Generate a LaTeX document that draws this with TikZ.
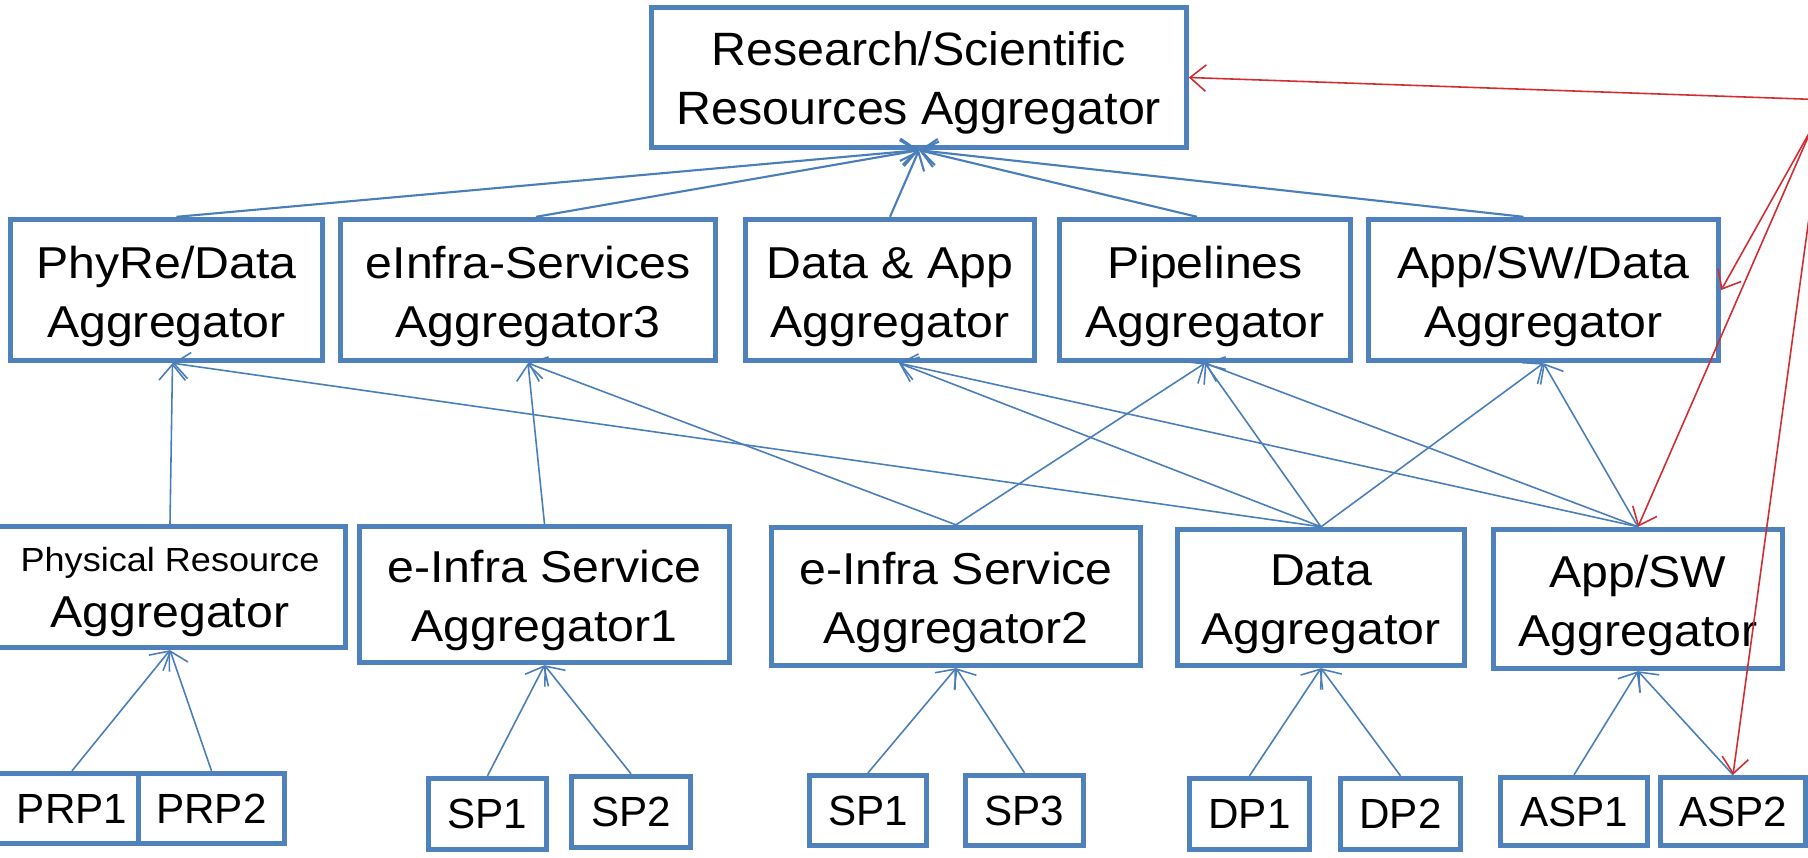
\documentclass[tikz,border=0pt]{standalone}
\usepackage{fontspec}
\setmainfont{Liberation Sans}
\newfontfamily\wfont{Liberation Sans}[FakeStretch=1.08]
\newfontfamily\tfont{Liberation Sans}[FakeStretch=1.035]
\usetikzlibrary{arrows.meta,calc}
\definecolor{boxblue}{RGB}{79,129,189}
\definecolor{lnblue}{RGB}{74,126,187}
\definecolor{lnred}{RGB}{210,45,50}
\newcommand\mystrut{\rule{0pt}{12.8pt}}
\begin{document}
\begin{tikzpicture}[x=0.01cm,y=-0.01cm,
 bigbox/.style={draw=boxblue,line width=1.5pt,fill=white,inner sep=0pt,align=center,font=\wfont\fontsize{12.7}{16.8}\selectfont},
 topbox/.style={bigbox,font=\tfont\fontsize{13.3}{16.8}\selectfont},
 smallbox/.style={draw=boxblue,line width=1.5pt,fill=white,inner sep=0pt,align=center,font=\fontsize{12}{14}\selectfont},
 conn/.style={draw=lnblue,line width=0.45pt,-{Straight Barb[length=4.5pt,width=7.5pt]}},
 topconn/.style={conn,line width=0.6pt},
 redconn/.style={draw=lnred,line width=0.45pt,-{Straight Barb[length=4.5pt,width=7.5pt]}}]
\useasboundingbox (0,0) rectangle (1808,858);
\clip (0,0) rectangle (1808,858);
\fill[white] (0,0) rectangle (1808,858);

% top
\node[topbox,minimum width=5.34cm,minimum height=1.40cm] (res) at (919,77.5) {\mystrut Research/Scientific\\Resources Aggregator};

% row 2
\node[bigbox,minimum width=3.12cm,minimum height=1.41cm] (phyd) at (166.5,290) {\mystrut PhyRe/Data\\Aggregator};
\node[bigbox,minimum width=3.75cm,minimum height=1.41cm] (einf) at (528,290) {\mystrut eInfra-Services\\Aggregator3};
\node[bigbox,minimum width=2.89cm,minimum height=1.41cm] (dapp) at (890,290) {\mystrut Data \& App\\Aggregator};
\node[bigbox,minimum width=2.91cm,minimum height=1.41cm] (pipe) at (1205,290) {\mystrut Pipelines\\Aggregator};
\node[bigbox,minimum width=3.50cm,minimum height=1.41cm] (aswd) at (1543.5,290) {\mystrut App/SW/Data\\Aggregator};

% row 3
\node[bigbox,minimum width=3.51cm,minimum height=1.21cm] (phr) at (170,587) {\rule{0pt}{9.5pt}{\fontsize{9.5}{10.8}\selectfont Physical Resource}\\[-0.9pt]Aggregator};
\node[bigbox,minimum width=3.70cm,minimum height=1.36cm] (agg1) at (544.5,594.5) {\mystrut e-Infra Service\\Aggregator1};
\node[bigbox,minimum width=3.69cm,minimum height=1.38cm] (agg2) at (956,596.5) {\mystrut e-Infra Service\\Aggregator2};
\node[bigbox,minimum width=2.87cm,minimum height=1.36cm] (dagg) at (1321,597.5) {\mystrut Data\\Aggregator};
\node[bigbox,minimum width=2.89cm,minimum height=1.39cm] (aswa) at (1638,599) {\mystrut App/SW\\Aggregator};

% row 4
\node[smallbox,minimum width=1.59cm,minimum height=0.70cm] (prp1) at (72,808.5) {PRP1};
\node[smallbox,minimum width=1.46cm,minimum height=0.70cm] (prp2) at (211.5,808.5) {PRP2};
\node[smallbox,minimum width=1.18cm,minimum height=0.71cm] (sp1) at (487.5,814) {SP1};
\node[smallbox,minimum width=1.19cm,minimum height=0.71cm] (sp2) at (631,812) {SP2};
\node[smallbox,minimum width=1.17cm,minimum height=0.70cm] (spb) at (868,810.5) {SP1};
\node[smallbox,minimum width=1.18cm,minimum height=0.70cm] (sp3) at (1024.5,810.5) {SP3};
\node[smallbox,minimum width=1.20cm,minimum height=0.71cm] (dp1) at (1249.5,814) {DP1};
\node[smallbox,minimum width=1.20cm,minimum height=0.71cm] (dp2) at (1400.5,814) {DP2};
\node[smallbox,minimum width=1.47cm,minimum height=0.68cm] (asp1) at (1574,811.5) {ASP1};
\node[smallbox,minimum width=1.45cm,minimum height=0.68cm] (asp2) at (1733,811.5) {ASP2};

% row 2 -> top
\draw[topconn] ($(phyd.north)+(10,0)$) -- (res.south);
\draw[topconn] ($(einf.north)+(8,0)$) -- (res.south);
\draw[topconn] (dapp.north) -- (res.south);
\draw[topconn] ($(pipe.north)+(-8,0)$) -- (res.south);
\draw[topconn] ($(aswd.north)+(-20,0)$) -- (res.south);

% row 3 -> row 2
\coordinate (phydS) at ($(phyd.south)+(6,0)$);
\coordinate (dappS) at ($(dapp.south)+(9,0)$);
\draw[conn] (phr.north) -- (phydS);
\draw[conn] (agg1.north) -- (einf.south);
\draw[conn] (agg2.north) -- (einf.south);
\draw[conn] (agg2.north) -- (pipe.south);
\draw[conn] (dagg.north) -- (phydS);
\draw[conn] (dagg.north) -- (dappS);
\draw[conn] (dagg.north) -- (pipe.south);
\draw[conn] (dagg.north) -- (aswd.south);
\draw[conn] (aswa.north) -- (dappS);
\draw[conn] (aswa.north) -- (pipe.south);
\draw[conn] (aswa.north) -- (aswd.south);

% row 4 -> row 3
\draw[conn] (prp1.north) -- (phr.south);
\draw[conn] (prp2.north) -- (phr.south);
\draw[conn] (sp1.north) -- (agg1.south);
\draw[conn] (sp2.north) -- (agg1.south);
\draw[conn] (spb.north) -- (agg2.south);
\draw[conn] (sp3.north) -- (agg2.south);
\draw[conn] (dp1.north) -- (dagg.south);
\draw[conn] (dp2.north) -- (dagg.south);
\draw[conn] (asp1.north) -- (aswa.south);
\draw[conn] (asp2.north) -- (aswa.south);

% red connectors from off-picture source
\coordinate (src1) at (1830,100);
\coordinate (src2) at (1812,128);
\coordinate (src3) at (1821,130);
\draw[redconn] (src1) -- (res.east);
\draw[redconn] (src2) -- (aswd.east);
\draw[redconn] (src2) -- (aswa.north);
\draw[redconn] (src3) -- (asp2.north);
\end{tikzpicture}
\end{document}
